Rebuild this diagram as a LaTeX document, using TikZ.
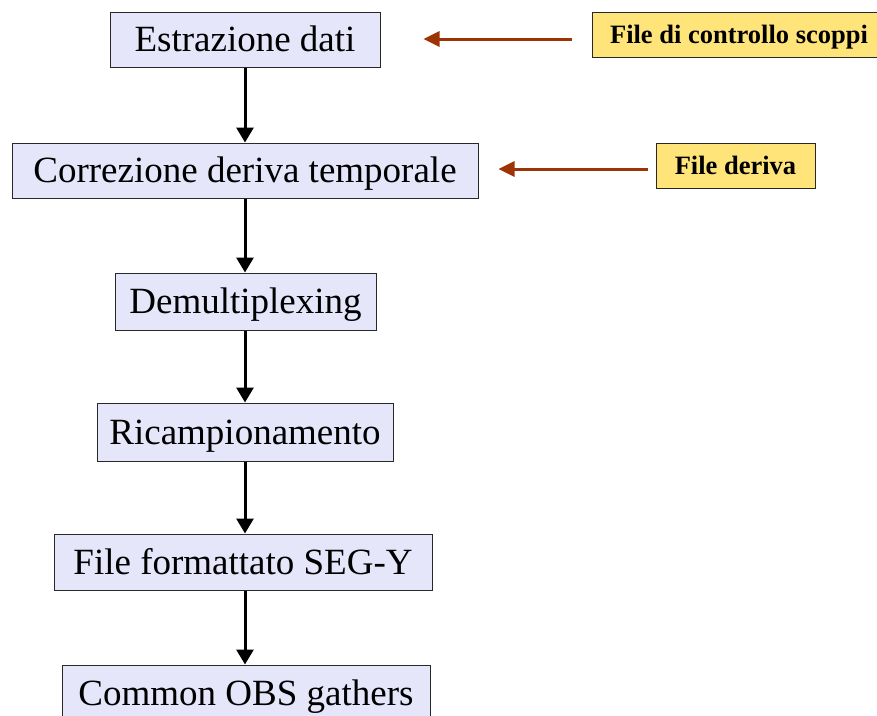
\documentclass[tikz,border=0pt]{standalone}
\usepackage{fontspec}
\setmainfont{Liberation Serif}
\usetikzlibrary{arrows.meta}
\definecolor{stepfill}{RGB}{230,230,250}
\definecolor{filefill}{RGB}{255,228,122}
\definecolor{feedline}{RGB}{158,52,6}
\definecolor{boxline}{RGB}{40,40,40}
\begin{document}
\begin{tikzpicture}[x=1pt,y=-1pt,
  stepbox/.style={draw=boxline, line width=1pt, fill=stepfill, inner sep=0pt,
    font=\fontsize{37}{40}\selectfont, text height=24.5pt, text depth=0pt},
  filebox/.style={draw=boxline, line width=1pt, fill=filefill, inner sep=0pt,
    font=\fontsize{26.5}{30}\selectfont\bfseries, text height=17.5pt, text depth=0pt},
  flow/.style={line width=3pt, -{Triangle[length=15pt,width=17pt]}},
  feed/.style={draw=feedline, line width=3pt, -{Triangle[length=16pt,width=15pt]}, color=feedline}]
  \useasboundingbox (0,0) rectangle (877,715);

  % processing chain
  \node[stepbox, minimum width=270pt, minimum height=55pt] (estr) at (245,39.5) {Estrazione dati};
  \node[stepbox, minimum width=466pt, minimum height=55pt] (corr) at (245,170.5) {Correzione deriva temporale};
  \node[stepbox, minimum width=261pt, minimum height=57pt] (demux) at (245.5,301.5) {Demultiplexing};
  \node[stepbox, minimum width=296pt, minimum height=58pt] (resamp) at (245,432) {Ricampionamento};
  \node[stepbox, minimum width=378pt, minimum height=56pt] (segy) at (243,562) {File formattato SEG-Y};
  \node[stepbox, minimum width=368pt, minimum height=56pt] (obs) at (246,693) {Common OBS gathers};

  % auxiliary input files
  \node[filebox, minimum width=294pt, minimum height=45pt] (shots) at (739,34.5) {File di controllo scoppi};
  \node[filebox, minimum width=159pt, minimum height=45pt] (drift) at (735.5,165.5) {File deriva};

  % flow arrows
  \draw[flow] (estr.south -| 245,0) -- (corr.north -| 245,0);
  \draw[flow] (corr.south -| 245,0) -- (demux.north -| 245,0);
  \draw[flow] (demux.south -| 245,0) -- (resamp.north -| 245,0);
  \draw[flow] (resamp.south -| 245,0) -- (segy.north -| 245,0);
  \draw[flow] (segy.south -| 245,0) -- (obs.north -| 245,0);

  % inputs feeding the steps
  \draw[feed, shorten <=20pt, shorten >=43pt] (shots.west |- 0,39) -- (estr.east |- 0,39);
  \draw[feed, shorten <=8pt, shorten >=20pt] (drift.west |- 0,169) -- (corr.east |- 0,169);
\end{tikzpicture}
\end{document}
